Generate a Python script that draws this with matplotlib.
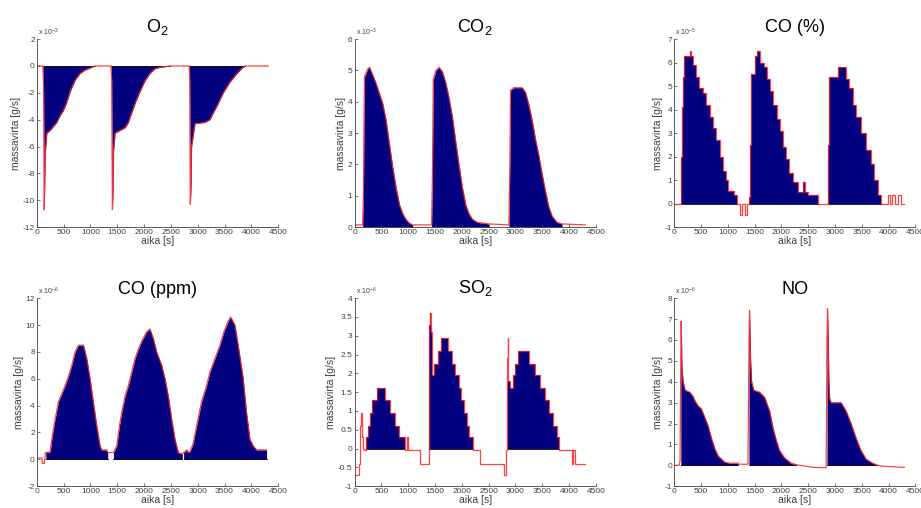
import numpy as np
import matplotlib
matplotlib.use("Agg")
import matplotlib.pyplot as plt

plt.rcParams['font.family'] = ['Liberation Sans', 'DejaVu Sans']
plt.rcParams['mathtext.default'] = 'regular'

# ---- data (in units of the axis exponent) ----
o2_t = [0, 112, 125, 137, 145, 155, 186, 248, 372, 434,
        497, 559, 621, 714, 807, 900, 993, 1086,
        1384, 1395, 1409, 1420, 1428, 1459, 1552, 1645, 1707, 1769,
        1831, 1924, 2017, 2110, 2204, 2297, 2483,
        2843, 2850, 2862, 2875, 2886, 2949, 3135, 3228, 3290, 3383,
        3476, 3600, 3724, 3817, 3880, 4314]
o2_v = [0, 0, -1.5, -10.7, -9.3, -6.6, -5.0, -4.8, -4.2, -3.7,
        -3.3, -2.7, -1.9, -1.05, -0.55, -0.3, -0.15, 0,
        0, -1.0, -10.7, -9.5, -6.5, -5.0, -4.8, -4.6, -4.2, -3.5,
        -2.8, -1.9, -1.1, -0.55, -0.2, -0.1, 0,
        0, -1.0, -10.3, -9.0, -6.0, -4.3, -4.2, -4.0, -3.5, -2.8,
        -2.0, -1.2, -0.6, -0.2, 0, 0]
o2_win = [(112, 1086), (1384, 2483), (2843, 3880)]

co2_t = [0, 150, 165, 173, 186, 248, 279, 340, 402, 464,
         526, 588, 650, 712, 774, 836, 898, 960, 1021, 1083,
         1436, 1450, 1467, 1517, 1578, 1640, 1702, 1764, 1826, 1888,
         1950, 2012, 2074, 2136, 2197, 2290, 2507,
         2878, 2895, 2909, 2971, 3126, 3188, 3250, 3312, 3374, 3435,
         3497, 3559, 3621, 3683, 3776, 3869, 4302]
co2_v = [0.07, 0.07, 1.0, 3.0, 4.8, 5.06, 5.1, 4.85, 4.58, 4.26,
         3.94, 3.4, 2.65, 1.9, 1.26, 0.72, 0.43, 0.24, 0.13, 0.07,
         0.07, 1.5, 4.7, 5.0, 5.1, 4.95, 4.6, 4.1, 3.5, 2.7,
         1.95, 1.25, 0.7, 0.42, 0.25, 0.15, 0.1,
         0.07, 2.0, 4.37, 4.45, 4.45, 4.3, 3.9, 3.4, 2.8, 2.3,
         1.7, 1.15, 0.65, 0.35, 0.15, 0.1, 0.07]
co2_win = [(150, 1100), (1436, 2507), (2878, 3869)]

# CO (%) is stepwise
copct_t = [0, 136, 150, 165, 185, 290, 320, 353, 403, 465,
           540, 602, 665, 727, 789, 851, 913, 965, 1010, 1110,
           1178, 1234, 1271, 1315, 1358, 1395, 1410, 1430, 1500, 1550,
           1600, 1670, 1730, 1790, 1850, 1910, 1970, 2030, 2090, 2150,
           2220, 2300, 2400, 2440, 2500, 2679, 2865, 2885, 3051, 3207,
           3268, 3330, 3392, 3485, 3578, 3671, 3733, 3795, 3857, 3990,
           4030, 4070, 4120, 4180, 4230, 4291]
copct_v = [0, 2.0, 4.1, 5.4, 6.3, 6.5, 6.3, 5.9, 5.4, 4.9,
           4.7, 4.2, 3.7, 3.2, 2.7, 2.0, 1.4, 1.0, 0.55, 0.35,
           0, -0.5, 0, -0.5, 0, 0.3, 2.5, 5.5, 6.3, 6.5,
           6.0, 5.8, 5.3, 4.8, 4.2, 3.6, 3.1, 2.4, 1.9, 1.3,
           0.9, 0.5, 0.9, 0.5, 0.35, 0, 2.5, 5.4, 5.8, 5.3,
           4.9, 4.2, 3.7, 3.0, 2.3, 1.7, 1.0, 0.35, 0, 0.35,
           0, 0.35, 0, 0.35, 0, 0]
copct_win = [(136, 1178), (1395, 2679), (2865, 3857)]

coppm_t = [0, 93, 105, 112, 143, 160, 168, 248, 279, 341,
           403, 466, 528, 590, 652, 714, 776, 869, 931, 993,
           1055, 1117, 1179, 1210, 1303, 1322, 1428, 1490, 1540, 1583,
           1645, 1707, 1769, 1831, 1893, 1955, 2048, 2110, 2172, 2235,
           2328, 2390, 2452, 2514, 2576, 2638, 2713, 2737, 2800, 2824,
           2860, 2917, 2980, 3073, 3166, 3228, 3321, 3414, 3489, 3569,
           3613, 3693, 3755, 3848, 3910, 3973, 4035, 4097, 4283]
coppm_v = [0.1, 0.1, -0.3, -0.3, -0.3, 0.5, 0.5, 0.55, 1.5, 3.0,
           4.3, 4.9, 5.5, 6.2, 7.0, 8.0, 8.5, 8.5, 7.5, 6.0,
           4.2, 2.5, 1.0, 0.7, 0.7, 0.5, 0.5, 1.0, 2.5, 3.5,
           4.7, 5.5, 6.5, 7.5, 8.2, 8.8, 9.5, 9.7, 9.0, 8.0,
           7.0, 6.0, 4.7, 3.0, 1.5, 0.5, 0.4, 0.5, 0.7, 0.5,
           0.6, 1.2, 2.5, 4.3, 5.5, 6.5, 7.5, 8.5, 9.5, 10.3,
           10.6, 10.0, 8.5, 6.0, 3.5, 1.5, 1.0, 0.7, 0.7]
coppm_win = [(168, 1322), (1428, 2713), (2737, 4283)]

# SO2 is stepwise
so2_t = [0, 81, 99, 112, 130, 155, 180, 205, 248, 286,
         329, 410, 565, 658, 751, 826, 944, 975, 1000, 1229,
         1384, 1390, 1405, 1420, 1446, 1477, 1558, 1620, 1738, 1819,
         1881, 1943, 1990, 2040, 2090, 2129, 2204, 2346, 2781, 2824,
         2850, 2858, 2868, 2905, 2948, 2998, 3048, 3259, 3371, 3464,
         3557, 3631, 3700, 3774, 3818, 4053, 4080, 4115, 4302]
so2_v = [-0.7, -0.4, 0.6, 0.95, 0.3, 0.0, -0.05, 0.3, 0.6, 0.95,
         1.28, 1.6, 1.28, 0.95, 0.6, 0.3, -0.05, 0.3, -0.05, -0.4,
         0.0, 3.3, 3.6, 3.1, 1.95, 2.25, 2.6, 2.95, 2.6, 2.25,
         1.95, 1.6, 1.28, 0.95, 0.6, 0.3, -0.05, -0.4, -0.7, -0.05,
         2.4, 2.95, 1.8, 1.6, 1.95, 2.25, 2.6, 2.25, 1.95, 1.6,
         1.28, 0.95, 0.6, 0.3, -0.05, -0.4, -0.05, -0.4, -0.4]
so2_win = [(205, 944), (1390, 2204), (2858, 3818)]

no_t = [0, 93, 110, 124, 130, 136, 142, 150, 167, 205,
        291, 353, 384, 446, 508, 570, 632, 695, 757, 819,
        881, 943, 1036, 1191, 1200, 1377, 1395, 1405, 1414, 1425,
        1445, 1482, 1594, 1687, 1780, 1842, 1904, 1966, 2059, 2183,
        2276, 2586, 2834, 2850, 2860, 2871, 2885, 2900, 2927, 3113,
        3206, 3299, 3392, 3485, 3578, 3702, 3795, 3900, 4291]
no_v = [0, 0, 0.2, 5.3, 6.9, 6.1, 5.0, 4.5, 4.0, 3.6,
        3.5, 3.3, 3.1, 2.85, 2.7, 2.3, 1.9, 1.3, 0.8, 0.45,
        0.3, 0.15, 0.1, 0.1, 0.05, 0.05, 5.9, 7.4, 6.4, 5.0,
        4.0, 3.6, 3.5, 3.25, 2.6, 1.8, 1.2, 0.7, 0.35, 0.1,
        0.03, -0.1, -0.12, 6.0, 7.5, 6.3, 4.0, 3.2, 3.0, 3.0,
        2.6, 2.0, 1.3, 0.7, 0.3, 0.1, 0.0, -0.05, -0.1]
no_win = [(124, 1191), (1395, 2276), (2850, 3795)]

panels = [
    ('O$_2$',    o2_t,    o2_v,    o2_win,    False, -3, (-12, 2), 2),
    ('CO$_2$',   co2_t,   co2_v,   co2_win,   False, -3, (0, 6), 1),
    ('CO (%)',   copct_t, copct_v, copct_win, True,  -5, (-1, 7), 1),
    ('CO (ppm)', coppm_t, coppm_v, coppm_win, False, -6, (-2, 12), 2),
    ('SO$_2$',   so2_t,   so2_v,   so2_win,   True,  -6, (-1, 4), 0.5),
    ('NO',       no_t,    no_v,    no_win,    False, -6, (-1, 8), 1),
]

# axes boxes in figure fractions [left, bottom, width, height]
lefts = [0.040, 0.385, 0.732]
bottoms = [0.553, 0.043]
W, H = 0.262, 0.370

navy = '#000080'
red = '#ff2020'
grey = '#404040'

fig = plt.figure(figsize=(9.21, 5.08), dpi=100)

for i, (title, t, v, wins, stepped, expo, ylim, ystep) in enumerate(panels):
    ax = fig.add_axes([lefts[i % 3], bottoms[i // 3], W, H])
    t = np.array(t, dtype=float)
    v = np.array(v, dtype=float)
    for s, e in wins:
        m = (t >= s) & (t <= e)
        if stepped:
            ax.fill_between(t, 0, v, where=m, step='post', color=navy, lw=0)
        else:
            ax.fill_between(t, 0, v, where=m, color=navy, lw=0)
        ax.plot([s, e], [0, 0], color='k', lw=0.6)
    ax.plot(t, v, color=red, lw=0.9, alpha=0.85,
            drawstyle='steps-post' if stepped else 'default')

    ax.set_xlim(0, 4500)
    ax.set_ylim(*ylim)
    ax.set_xticks(np.arange(0, 4501, 500))
    yt = np.arange(ylim[0], ylim[1] + ystep / 2, ystep)
    ax.set_yticks(yt)
    ax.set_yticklabels(['%g' % y for y in yt])
    for sp in ['top', 'right']:
        ax.spines[sp].set_visible(False)
    for sp in ['left', 'bottom']:
        ax.spines[sp].set_color(grey)
        ax.spines[sp].set_linewidth(0.6)
    ax.tick_params(direction='in', length=2.5, width=0.5, colors=grey,
                   labelsize=6, pad=1.5)
    ax.set_xlabel('aika [s]', fontsize=7.5, color=grey, labelpad=0)
    ax.set_ylabel('massavirta [g/s]', fontsize=7.5, color=grey, labelpad=1)
    ax.set_title(title, fontsize=13, pad=5 if i < 3 else 1)
    ax.text(0.005, 1.005, 'x 10$^{%d}$' % expo, transform=ax.transAxes,
            fontsize=5, color=grey, va='bottom', ha='left')

fig.savefig('out.png', dpi=100)
